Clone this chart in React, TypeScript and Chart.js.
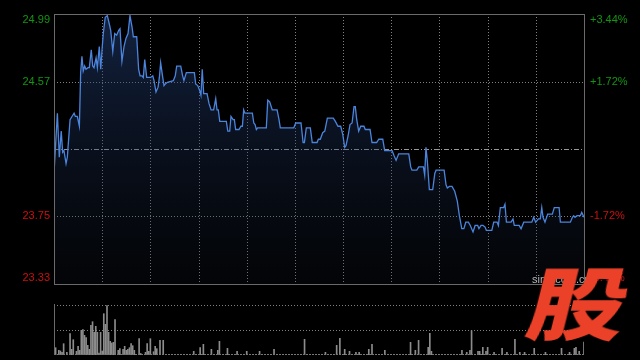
import React, { useEffect, useRef } from 'react';
import { Chart, registerables } from 'chart.js';

Chart.register(...registerables);

// minutes since the 09:30 open (HK session, 330 trading minutes)
const minutes = [0, 2.1, 3.3, 4.5, 5.4, 6.2, 7.5, 8.3, 10.0, 11.2, 12.5, 13.3, 14.5, 15.8, 16.6, 17.4, 18.2, 19.1, 19.9, 21.2, 22.0, 23.2, 24.1, 24.9, 26.2, 27.0, 28.2, 29.1, 29.9, 30.7, 31.9, 33.2, 34.4, 35.3, 36.6, 37.8, 39.0, 40.3, 41.1, 42.3, 43.6, 44.8, 46.1, 47.3, 48.6, 49.4, 51.5, 52.7, 53.6, 54.8, 55.6, 56.5, 57.7, 60.2, 61.5, 62.3, 63.5, 64.8, 65.6, 66.4, 67.7, 68.5, 69.3, 70.6, 74.3, 75.5, 76.4, 78.9, 80.1, 80.9, 82.4, 87.4, 88.2, 89.5, 90.7, 91.5, 92.3, 93.2, 95.3, 96.5, 97.8, 99.4, 100.7, 101.5, 102.3, 103.2, 107.3, 108.2, 109.4, 110.2, 111.5, 112.3, 113.1, 115.2, 116.4, 117.3, 118.1, 118.9, 123.5, 124.4, 125.2, 126.0, 126.8, 132.2, 133.1, 134.3, 135.9, 138.9, 140.1, 140.9, 149.3, 150.5, 153.8, 155.1, 155.9, 157.1, 159.6, 160.8, 163.8, 164.6, 165.8, 167.3, 168.6, 170.2, 173.9, 175.2, 176.8, 178.5, 179.8, 181.0, 181.8, 183.1, 184.3, 185.6, 186.8, 187.6, 188.5, 189.7, 191.0, 193.0, 193.8, 196.8, 198.0, 200.9, 202.2, 204.7, 205.9, 210.5, 211.7, 213.0, 214.6, 220.9, 222.1, 222.9, 225.9, 227.1, 230.0, 230.8, 231.6, 232.5, 233.7, 235.8, 237.1, 237.9, 242.9, 244.1, 244.9, 246.2, 247.8, 249.5, 251.1, 252.4, 253.9, 255.2, 256.4, 258.0, 259.2, 260.9, 262.2, 263.8, 264.6, 265.9, 267.1, 268.4, 269.2, 272.6, 273.8, 275.9, 276.7, 277.9, 280.0, 280.8, 281.7, 284.6, 285.8, 286.6, 289.6, 290.8, 292.5, 297.5, 298.7, 299.9, 301.6, 302.8, 303.7, 304.5, 305.7, 307.4, 310.3, 311.5, 314.5, 315.3, 321.5, 322.8, 323.6, 324.4, 325.7, 327.7, 328.6, 330];

const prices = [24.01, 24.38, 24.11, 24.27, 24.14, 24.15, 24.07, 24.11, 24.34, 24.36, 24.38, 24.36, 24.36, 24.30, 24.63, 24.73, 24.64, 24.67, 24.65, 24.66, 24.66, 24.77, 24.67, 24.66, 24.72, 24.66, 24.79, 24.65, 24.77, 24.87, 24.97, 24.98, 24.93, 24.89, 24.76, 24.87, 24.86, 24.89, 24.90, 24.70, 24.79, 24.84, 24.87, 24.98, 24.91, 24.85, 24.85, 24.65, 24.61, 24.61, 24.60, 24.71, 24.60, 24.60, 24.61, 24.58, 24.51, 24.54, 24.60, 24.69, 24.60, 24.55, 24.56, 24.57, 24.58, 24.61, 24.67, 24.67, 24.61, 24.58, 24.63, 24.63, 24.56, 24.55, 24.52, 24.49, 24.65, 24.50, 24.50, 24.44, 24.40, 24.40, 24.47, 24.40, 24.40, 24.33, 24.33, 24.27, 24.27, 24.36, 24.34, 24.34, 24.28, 24.28, 24.30, 24.30, 24.40, 24.38, 24.38, 24.32, 24.31, 24.28, 24.29, 24.29, 24.46, 24.45, 24.40, 24.40, 24.34, 24.29, 24.29, 24.32, 24.32, 24.20, 24.20, 24.29, 24.29, 24.20, 24.20, 24.22, 24.22, 24.26, 24.27, 24.35, 24.35, 24.33, 24.30, 24.30, 24.25, 24.17, 24.18, 24.24, 24.31, 24.32, 24.42, 24.42, 24.34, 24.27, 24.30, 24.30, 24.28, 24.28, 24.20, 24.20, 24.22, 24.22, 24.15, 24.15, 24.12, 24.09, 24.13, 24.13, 24.05, 24.03, 24.03, 24.05, 24.05, 24.00, 24.17, 24.08, 23.91, 23.91, 24.01, 24.03, 24.03, 23.94, 23.92, 23.93, 23.93, 23.90, 23.84, 23.75, 23.67, 23.67, 23.71, 23.71, 23.69, 23.65, 23.69, 23.69, 23.67, 23.69, 23.69, 23.68, 23.66, 23.66, 23.71, 23.71, 23.69, 23.80, 23.80, 23.82, 23.71, 23.71, 23.73, 23.69, 23.69, 23.67, 23.71, 23.71, 23.74, 23.71, 23.73, 23.73, 23.80, 23.74, 23.71, 23.76, 23.76, 23.80, 23.80, 23.71, 23.71, 23.74, 23.75, 23.74, 23.75, 23.75, 23.77, 23.74];

const volMinutes = [1, 3, 4, 5, 6, 8, 10, 11, 12, 14, 15, 16, 17, 18, 19, 20, 21, 22, 23, 24, 25, 26, 27, 28, 29, 30, 31, 32, 33, 34, 35, 36, 37, 38, 40, 41, 43, 44, 45, 46, 47, 48, 49, 50, 53, 54, 57, 58, 59, 60, 62, 63, 64, 66, 68, 87, 91, 93, 98, 102, 103, 108, 114, 120, 128, 137, 156, 169, 176, 178, 181, 184, 188, 190, 196, 198, 206, 222, 225, 227, 233, 234, 235, 254, 257, 259, 260, 264, 265, 267, 269, 270, 274, 279, 282, 287, 290, 293, 299, 306, 316, 321, 324, 325, 327, 330];
const volumes = [730, 470, 400, 270, 1130, 270, 2130, 570, 1530, 370, 870, 470, 2470, 2530, 1970, 1730, 970, 570, 2970, 3330, 2270, 2870, 2270, 200, 2270, 400, 4130, 3070, 4930, 2270, 1370, 1200, 1270, 3530, 470, 630, 570, 870, 470, 570, 730, 1130, 930, 470, 1630, 150, 270, 1130, 370, 1630, 330, 870, 630, 1470, 1470, 370, 730, 1070, 570, 470, 1370, 670, 370, 370, 370, 570, 1570, 270, 970, 1670, 570, 370, 270, 270, 570, 1070, 470, 1270, 470, 1470, 770, 2170, 370, 470, 270, 470, 2430, 370, 370, 770, 370, 770, 270, 670, 270, 1570, 270, 270, 670, 270, 670, 270, 670, 770, 370, 1300];

const priceTicks = [24.99, 24.57, 24.16, 23.75, 23.33];
const pctLabels = ['+3.44%', '+1.72%', '0.00%', '-1.72%', '-3.44%'];
const showTickLabel = [true, true, false, true, true];
const prevClose = 24.16;
const timeTicks = [0, 30, 60, 90, 120, 150, 180, 210, 240, 270, 300, 330];
const volTicks = [5000, 2500];
const volMax = 5000;
const watermark = 'sina.com.cn';
const logoText = '股';

const FONT = '11px "Liberation Sans", Arial, sans-serif';
const UP = '#129612';
const DOWN = '#cc1010';

const crisp = (v: number) => Math.round(v) + 0.5;

const pricePlugin = {
  id: 'priceDecor',
  beforeDatasetsDraw(chart: any) {
    const { ctx, chartArea: a, scales } = chart;
    const x = scales.x, y = scales.y;
    ctx.save();
    ctx.lineWidth = 1;
    ctx.strokeStyle = 'rgba(150,150,150,0.85)';
    ctx.setLineDash([1, 2]);
    timeTicks.forEach((t) => {
      if (t === timeTicks[0] || t === timeTicks[timeTicks.length - 1]) return;
      const px = crisp(x.getPixelForValue(t));
      ctx.beginPath(); ctx.moveTo(px, a.top); ctx.lineTo(px, a.bottom); ctx.stroke();
    });
    priceTicks.forEach((p, i) => {
      if (i === 0 || i === priceTicks.length - 1 || p === prevClose) return;
      const py = crisp(y.getPixelForValue(p));
      ctx.beginPath(); ctx.moveTo(a.left, py); ctx.lineTo(a.right, py); ctx.stroke();
    });
    ctx.strokeStyle = 'rgba(170,170,170,0.9)';
    ctx.setLineDash([5, 2, 1, 2]);
    const pc = crisp(y.getPixelForValue(prevClose));
    ctx.beginPath(); ctx.moveTo(a.left, pc); ctx.lineTo(a.right, pc); ctx.stroke();
    ctx.restore();
  },
  afterDatasetsDraw(chart: any) {
    const { ctx, chartArea: a, scales } = chart;
    const y = scales.y;
    ctx.save();
    ctx.setLineDash([]);
    ctx.lineWidth = 1;
    ctx.strokeStyle = '#6a6a6a';
    ctx.strokeRect(crisp(a.left), crisp(a.top), Math.round(a.right - a.left), Math.round(a.bottom - a.top));
    ctx.font = FONT;
    ctx.textBaseline = 'middle';
    priceTicks.forEach((p, i) => {
      if (!showTickLabel[i]) return;
      let py = y.getPixelForValue(p);
      py = Math.max(a.top + 6, Math.min(a.bottom - 6, py));
      ctx.fillStyle = p > prevClose ? UP : DOWN;
      ctx.textAlign = 'right';
      ctx.fillText(p.toFixed(2), a.left - 4, py);
      ctx.textAlign = 'left';
      ctx.fillText(pctLabels[i], a.right + 6, py);
    });
    ctx.fillStyle = '#b5b5b5';
    ctx.textAlign = 'left';
    ctx.textBaseline = 'alphabetic';
    ctx.fillText(watermark, a.right - 52, a.bottom - 1);
    ctx.restore();
  },
};

const volPlugin = {
  id: 'volDecor',
  beforeDatasetsDraw(chart: any) {
    const { ctx, chartArea: a, scales } = chart;
    const y = scales.y;
    ctx.save();
    ctx.lineWidth = 1;
    ctx.strokeStyle = 'rgba(150,150,150,0.85)';
    ctx.setLineDash([1, 2]);
    volTicks.forEach((v) => {
      const py = crisp(y.getPixelForValue(v));
      ctx.beginPath(); ctx.moveTo(a.left, py); ctx.lineTo(a.right, py); ctx.stroke();
    });
    ctx.restore();
  },
  afterDatasetsDraw(chart: any) {
    const { ctx, chartArea: a } = chart;
    ctx.save();
    ctx.lineWidth = 1;
    ctx.strokeStyle = '#777';
    ctx.setLineDash([2, 1]);
    ctx.beginPath(); ctx.moveTo(a.left, crisp(a.bottom) - 1); ctx.lineTo(a.right, crisp(a.bottom) - 1); ctx.stroke();
    ctx.setLineDash([]);
    ctx.strokeStyle = '#6a6a6a';
    ctx.beginPath(); ctx.moveTo(crisp(a.left), a.top - 1); ctx.lineTo(crisp(a.left), a.bottom); ctx.stroke();
    ctx.restore();
  },
};

export default function App() {
  const priceRef = useRef<HTMLCanvasElement>(null);
  const volRef = useRef<HTMLCanvasElement>(null);

  useEffect(() => {
    const priceChart = new Chart(priceRef.current as HTMLCanvasElement, {
      type: 'line',
      data: {
        datasets: [
          {
            data: minutes.map((m, i) => ({ x: m, y: prices[i] })),
            borderColor: '#4b84dc',
            borderWidth: 1.3,
            pointRadius: 0,
            tension: 0,
            fill: 'start',
            backgroundColor: (c: any) => {
              const area = c.chart.chartArea;
              if (!area) return 'rgba(0,0,0,0)';
              const g = c.chart.ctx.createLinearGradient(0, area.top, 0, area.bottom);
              g.addColorStop(0, 'rgba(40,72,135,0.48)');
              g.addColorStop(1, 'rgba(20,30,50,0.15)');
              return g;
            },
          },
        ],
      },
      options: {
        responsive: false,
        animation: false,
        devicePixelRatio: 1,
        layout: { padding: { left: 54, right: 56, top: 14, bottom: 16 } },
        scales: {
          x: { type: 'linear', min: timeTicks[0], max: timeTicks[timeTicks.length - 1], display: false },
          y: { type: 'linear', min: priceTicks[priceTicks.length - 1], max: priceTicks[0], display: false },
        },
        plugins: { legend: { display: false }, tooltip: { enabled: false } },
      },
      plugins: [pricePlugin],
    } as any);

    const volChart = new Chart(volRef.current as HTMLCanvasElement, {
      type: 'bar',
      data: {
        datasets: [
          {
            data: volMinutes.map((m, i) => ({ x: m, y: volumes[i] })),
            backgroundColor: '#8c8c8c',
            barThickness: 1,
          },
        ],
      },
      options: {
        responsive: false,
        animation: false,
        devicePixelRatio: 1,
        layout: { padding: { left: 54, right: 56, top: 5, bottom: 5 } },
        scales: {
          x: { type: 'linear', min: timeTicks[0], max: timeTicks[timeTicks.length - 1], offset: false, display: false },
          y: { type: 'linear', min: 0, max: volMax, display: false },
        },
        plugins: { legend: { display: false }, tooltip: { enabled: false } },
      },
      plugins: [volPlugin],
    } as any);

    return () => {
      priceChart.destroy();
      volChart.destroy();
    };
  }, []);

  return (
    <div style={{ position: 'fixed', left: 0, top: 0, width: 640, height: 360, background: '#000', overflow: 'hidden' }}>
      <canvas ref={priceRef} width={640} height={300} style={{ position: 'absolute', left: 0, top: 0, display: 'block' }} />
      <canvas ref={volRef} width={640} height={60} style={{ position: 'absolute', left: 0, top: 300, display: 'block' }} />
      <div
        style={{
          position: 'absolute',
          left: 522,
          top: 260,
          fontSize: 78,
          lineHeight: 1,
          fontFamily: '"Noto Sans CJK SC", sans-serif',
          fontWeight: 900,
          color: '#ea4128',
          transform: 'skewX(-14deg) scaleX(1.25)',
          transformOrigin: 'left bottom',
        }}
      >
        {logoText}
      </div>
    </div>
  );
}
